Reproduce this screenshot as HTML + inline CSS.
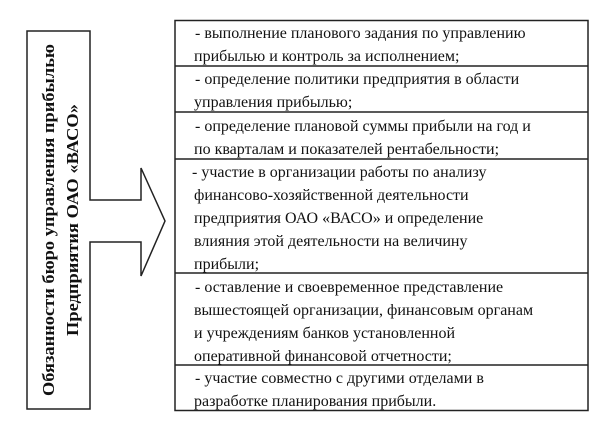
<!DOCTYPE html>
<html><head><meta charset="utf-8"><style>
html,body{margin:0;padding:0;background:#fff;width:613px;height:433px;overflow:hidden}
svg text{font-family:"Liberation Serif",serif;fill:#111}
.t{font-size:16px}
.b{font-size:17px;font-weight:bold}
</style></head><body>
<svg width="613" height="433" viewBox="0 0 613 433" xmlns="http://www.w3.org/2000/svg">
<path d="M27,31 H90 V200 H141 V168 L165,221 L141,276 V242 H90 V409 H27 Z" fill="#fff" stroke="#222" stroke-width="1.5"/>
<text class="b" transform="translate(54,220) rotate(-90)" text-anchor="middle" textLength="352" lengthAdjust="spacingAndGlyphs">Обязанности бюро управления прибылью</text>
<text class="b" transform="translate(78,220) rotate(-90)" text-anchor="middle" textLength="232" lengthAdjust="spacingAndGlyphs">Предприятия ОАО «ВАСО»</text>
<rect x="175" y="20.5" width="413" height="390" fill="none" stroke="#222" stroke-width="1.5"/>
<g stroke="#222" stroke-width="1.5">
<line x1="175" y1="66" x2="588" y2="66"/>
<line x1="175" y1="112" x2="588" y2="112"/>
<line x1="175" y1="159" x2="588" y2="159"/>
<line x1="175" y1="273" x2="588" y2="273"/>
<line x1="175" y1="365" x2="588" y2="365"/>
</g>
<g class="t">
<text x="195" y="38">- выполнение планового задания по управлению</text>
<text x="194" y="61">прибылью и контроль за  исполнением;</text>
<text x="195" y="84">- определение  политики предприятия в области</text>
<text x="194" y="107">управления прибылью;</text>
<text x="195" y="131">- определение плановой суммы прибыли на год и</text>
<text x="194" y="154">по кварталам и показателей рентабельности;</text>
<text x="192" y="177">-  участие в организации работы по анализу</text>
<text x="194" y="200">финансово-хозяйственной деятельности</text>
<text x="194" y="223">предприятия ОАО «ВАСО» и определение</text>
<text x="194" y="246">влияния этой деятельности на  величину</text>
<text x="194" y="269">прибыли;</text>
<text x="195" y="292">- оставление и своевременное представление</text>
<text x="194" y="315">вышестоящей организации, финансовым органам</text>
<text x="194" y="338">и учреждениям банков установленной</text>
<text x="194" y="361">оперативной финансовой отчетности;</text>
<text x="195" y="383">- участие совместно с другими отделами в</text>
<text x="194" y="406">разработке планирования  прибыли.</text>
</g>
</svg>
</body></html>
